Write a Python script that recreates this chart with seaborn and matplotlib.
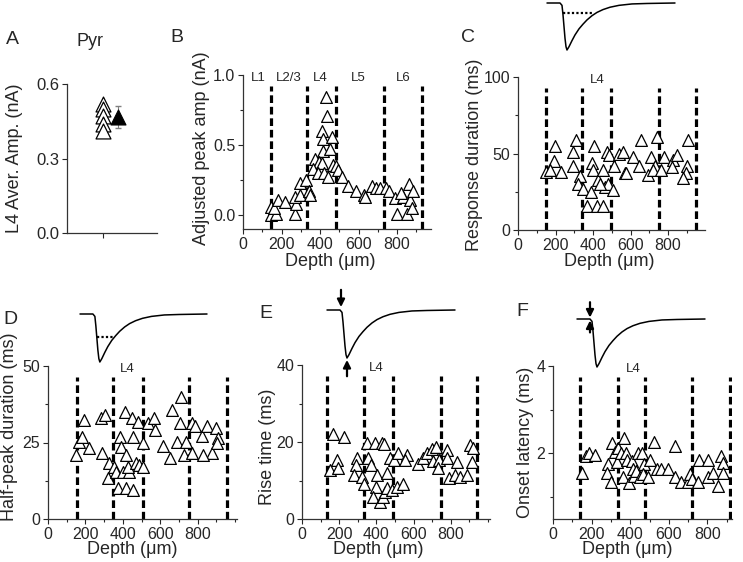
import numpy as np
import matplotlib
matplotlib.use("Agg")
import matplotlib.pyplot as plt
from matplotlib.ticker import MultipleLocator, FixedLocator, FormatStrFormatter
import seaborn as sns

sns.set_style("ticks")
plt.rcParams["font.family"] = ["Liberation Sans", "DejaVu Sans"]

W, H = 743, 562

# ---- data ----
# A: L4 average amplitude (nA)
a_amp = [0.52, 0.50, 0.47, 0.44, 0.41]

# B: adjusted peak amplitude (nA) vs depth (um)
b_depth = [144, 144, 170, 160, 184, 219, 270, 275, 270, 296, 297, 327, 341, 350,
           431, 435, 410, 417, 463, 414, 452, 376, 395, 365, 410, 388, 419, 443,
           466, 484, 492, 515, 544, 588, 626, 635, 671, 692, 713, 744, 756, 791,
           797, 831, 849, 862, 866, 883, 820, 875]
b_amp = [0.06, 0.00, 0.01, 0.05, 0.11, 0.09, 0.01, 0.08, 0.13, 0.14, 0.23, 0.25, 0.17, 0.14,
         0.84, 0.71, 0.60, 0.54, 0.555, 0.46, 0.47, 0.40, 0.38, 0.33, 0.37, 0.30, 0.30, 0.27,
         0.36, 0.35, 0.32, 0.27, 0.21, 0.17, 0.14, 0.13, 0.21, 0.19, 0.19, 0.195, 0.17, 0.12,
         0.01, 0.13, 0.01, 0.22, 0.11, 0.17, 0.16, 0.05]

# C: response duration (ms)
c_depth = [149, 197, 192, 171, 228, 309, 292, 295, 331, 322, 348, 370, 405, 393, 398, 388,
           420, 452, 428, 452, 473, 464, 482, 505, 487, 514, 540, 562, 571, 615, 576, 654,
           647, 695, 707, 740, 731, 722, 761, 780, 828, 819, 850, 908, 903, 896, 878, 436]
c_dur = [38, 55, 45, 39, 38, 59, 51, 42, 35, 30, 27, 16, 55, 44, 39, 25,
         16, 16, 33, 39, 51, 28, 30, 26, 49, 42, 50, 51, 37, 48, 37, 59,
         42, 36, 48, 61, 42, 39, 39, 48, 46, 41, 49, 59, 42, 37, 34, 30]

# D: half-peak duration (ms)
d_depth = [152, 167, 184, 194, 220, 283, 306, 289, 328, 319, 355, 364, 373, 409, 385, 391,
           418, 403, 435, 426, 418, 453, 450, 480, 471, 486, 453, 507, 507, 534, 565, 570,
           615, 651, 660, 704, 713, 690, 727, 740, 767, 772, 785, 821, 848, 875, 830, 898,
           910, 905]
d_dur = [20.9, 25.3, 26.9, 32.4, 23.1, 32.9, 34.0, 21.5, 18.4, 13.3, 17.1, 15.5, 10.0, 35.0, 26.9, 23.6,
         20.9, 15.5, 15.5, 17.1, 10.0, 26.9, 32.9, 31.8, 18.2, 17.6, 9.5, 24.7, 17.1, 31.3, 32.9, 29.1,
         23.9, 19.8, 35.6, 31.3, 39.8, 25.3, 20.9, 25.3, 21.5, 31.3, 30.4, 27.2, 30.5, 21.5, 20.9, 29.6,
         26.4, 25.0]

# E: rise time (ms)
e_depth = [150, 165, 190, 195, 228, 294, 290, 280, 321, 335, 348, 357, 369, 392, 401, 398,
           380, 419, 434, 428, 441, 455, 446, 459, 473, 495, 482, 509, 518, 545, 566, 554,
           625, 652, 670, 697, 720, 703, 738, 733, 778, 778, 792, 832, 823, 849, 885, 903,
           918, 912]
e_rise = [12.7, 22.1, 15.3, 13.2, 21.4, 15.8, 14.0, 11.4, 11.0, 9.2, 19.7, 15.8, 14.0, 19.7, 11.4, 8.4,
          5.8, 4.5, 5.8, 19.8, 19.5, 11.9, 7.1, 8.0, 15.8, 15.3, 7.5, 8.4, 17.2, 9.2, 16.6, 15.3,
          14.3, 15.8, 17.1, 18.1, 18.8, 15.1, 15.3, 13.2, 17.9, 15.8, 10.6, 14.9, 11.4, 11.0, 11.4, 19.2,
          18.4, 14.9]

# F: onset latency (ms)
f_depth = [149, 170, 188, 219, 283, 278, 300, 308, 323, 335, 330, 353, 370, 361, 379, 382,
           396, 410, 413, 422, 431, 439, 448, 462, 469, 465, 491, 504, 521, 538, 561, 596,
           630, 634, 665, 700, 708, 720, 752, 757, 804, 804, 830, 856, 868, 882, 879]
f_lat = [1.56, 1.95, 2.02, 1.96, 1.75, 1.55, 1.35, 2.23, 2.03, 2.13, 1.80, 2.02, 2.36, 1.45, 2.02, 1.85,
         1.33, 1.83, 1.64, 1.48, 1.60, 2.02, 1.45, 2.02, 1.75, 1.52, 1.45, 1.86, 2.26, 1.64, 1.64, 1.64,
         2.17, 1.45, 1.35, 1.35, 1.52, 1.41, 1.35, 1.85, 1.85, 1.45, 1.56, 1.26, 1.95, 1.77, 1.56]

# cortical layer borders (um) as drawn in each panel
b_borders = [146, 330, 485, 732, 929]
c_borders = [149, 341, 496, 752, 949]
d_borders = [156, 349, 505, 753, 957]
e_borders = [134, 333, 489, 747, 941]
f_borders = [140, 335, 479, 722, 917]
layer_names = ["L1", "L2/3", "L4", "L5", "L6"]
layer_pos = [78, 240, 402, 600, 830]

# example response trace (normalised), time in arbitrary units
trace_t = [0, 13, 15, 16, 17, 18, 19, 20, 22, 25, 28, 32, 36, 40, 45, 50, 56, 63, 72, 85, 100, 128]
trace_v = [0, 0, -0.05, -0.25, -0.5, -0.75, -0.93, -1.0, -0.93, -0.8, -0.68, -0.55, -0.45,
           -0.36, -0.27, -0.2, -0.14, -0.09, -0.05, -0.02, -0.01, 0]


def box(left, top, right, bottom):
    return [left / W, 1 - bottom / H, (right - left) / W, (bottom - top) / H]


def style(ax, ylim, ymajor, yminor, xmax):
    sns.despine(ax=ax)
    ax.set_ylim(*ylim)
    ax.yaxis.set_major_locator(MultipleLocator(ymajor))
    ax.yaxis.set_minor_locator(MultipleLocator(yminor))
    ax.set_xlim(0, xmax)
    ax.set_xticks([0, 200, 400, 600, 800])
    ax.xaxis.set_minor_locator(MultipleLocator(100))
    ax.tick_params(which="major", direction="out", length=3.5, width=0.8, labelsize=11.5, pad=2)
    ax.tick_params(which="minor", direction="out", length=2, width=0.8)
    for s in ["left", "bottom"]:
        ax.spines[s].set_linewidth(0.9)
        ax.spines[s].set_color("#333333")
    ax.set_xlabel("")
    ax.set_ylabel("")


def depth_panel(rect, x, y, borders, ylim, ymajor, yminor, xmax, labels, label_x):
    ax = fig.add_axes(box(*rect))
    for b in borders:
        ax.axvline(b, ymin=0, ymax=0.93, color="black", lw=2.3, ls=(0, (2.4, 1.2)), zorder=1)
    sns.scatterplot(x=x, y=y, ax=ax, marker="^", s=72, color="white",
                    edgecolor="black", linewidth=0.9, zorder=3, clip_on=False)
    style(ax, ylim, ymajor, yminor, xmax)
    tr = ax.get_xaxis_transform()
    for name, lx in zip(labels, label_x):
        ax.text(lx, 0.98, name, transform=tr, ha="center", va="center", fontsize=9.5)
    return ax


def trace_inset(rect):
    ax = fig.add_axes(box(*rect))
    sns.lineplot(x=trace_t, y=trace_v, ax=ax, color="black", lw=1.1, sort=False)
    ax.set_xlim(0, 128)
    ax.set_ylim(-1, 0)
    ax.axis("off")
    for ln in ax.lines:
        ln.set_clip_on(False)
    return ax


def arrow(ax, t, v0, v1):
    ax.annotate("", xy=(t, v1), xytext=(t, v0), annotation_clip=False,
                arrowprops=dict(arrowstyle="-|>", color="black", lw=1.6, mutation_scale=11,
                                shrinkA=0, shrinkB=0))


fig = plt.figure(figsize=(W / 100, H / 100), dpi=100)

# ---- A ----
axA = fig.add_axes(box(67, 84, 157, 233))
sns.scatterplot(x=[0] * len(a_amp), y=a_amp, ax=axA, marker="^", s=115, color="white",
                edgecolor="black", linewidth=0.9, zorder=3, clip_on=False)
a_mean = np.mean(a_amp)
a_sd = np.std(a_amp, ddof=1)
axA.errorbar([0.42], [a_mean], yerr=[a_sd], color="gray", lw=0.8, capsize=2.5, zorder=2)
sns.scatterplot(x=[0.42], y=[a_mean], ax=axA, marker="^", s=115, color="black",
                edgecolor="black", zorder=4)
sns.despine(ax=axA)
axA.set_xlim(-1, 1.5)
axA.set_ylim(0, 0.6)
axA.set_yticks([0.0, 0.3, 0.6])
axA.set_xticks([0])
axA.set_xticklabels([""])
axA.tick_params(direction="out", length=3.5, width=0.8, labelsize=12, pad=2)
for s in ["left", "bottom"]:
    axA.spines[s].set_linewidth(0.9)
    axA.spines[s].set_color("#333333")
axA.set_xlabel("")
axA.set_ylabel("")
fig.text(90 / W, 1 - 41 / H, "Pyr", ha="center", va="center", fontsize=13)

# ---- B ----
axB = depth_panel((243, 75, 431, 229), b_depth, b_amp, b_borders, (-0.1, 1.0), 0.5, 0.25, 976,
                  layer_names, layer_pos)
axB.yaxis.set_major_formatter(FormatStrFormatter("%.1f"))

# ---- C ----
axC = depth_panel((518, 77, 705, 230), c_depth, c_dur, c_borders, (0, 100), 50, 25, 997,
                  ["L4"], [421])
inC = trace_inset((547, 3, 675, 50))
inC.plot([16, 46], [-0.21, -0.21], color="black", ls=(0, (1, 1)), lw=1.6, clip_on=False)

# ---- D ----
axD = depth_panel((48, 366, 237, 519), d_depth, d_dur, d_borders, (0, 50), 25, 12.5, 1010,
                  ["L4"], [425])
inD = trace_inset((80, 314, 207, 362))
inD.plot([17, 33], [-0.48, -0.48], color="black", ls=(0, (1, 1)), lw=1.6, clip_on=False)

# ---- E ----
axE = depth_panel((302, 365, 490, 519), e_depth, e_rise, e_borders, (0, 40), 20, 10, 1011,
                  ["L4"], [400])
inE = trace_inset((327, 310, 455, 358))
arrow(inE, 14, 0.42, 0.06)
arrow(inE, 20, -1.38, -1.04)

# ---- F ----
axF = depth_panel((553, 366, 732, 519), f_depth, f_lat, f_borders, (0.5, 4), 2, 1, 927,
                  ["L4"], [416])
axF.set_yticks([2, 4])
axF.yaxis.set_minor_locator(FixedLocator([1, 3]))
inF = trace_inset((577, 319, 705, 367))
arrow(inF, 13, 0.35, 0.03)
arrow(inF, 13, -0.28, -0.03)

# ---- axis labels as figure text ----
ylabels = [("L4 Aver. Amp. (nA)", 15, 158), ("Adjusted peak amp (nA)", 201, 148),
           ("Response duration (ms)", 475, 155), ("Half-peak duration (ms)", 10, 427),
           ("Rise time (ms)", 267, 447), ("Onset latency (ms)", 525, 442)]
for txt, x, y in ylabels:
    fig.text(x / W, 1 - y / H, txt, rotation=90, ha="center", va="center", fontsize=13)

xlabels = [(330, 262), (609, 262), (132, 550), (378, 550), (627, 549)]
for x, y in xlabels:
    fig.text(x / W, 1 - y / H, "Depth (\u03bcm)", ha="center", va="center", fontsize=13)

letters = [("A", 12, 40), ("B", 177, 37), ("C", 468, 37), ("D", 10, 319), ("E", 266, 313), ("F", 522, 311)]
for txt, x, y in letters:
    fig.text(x / W, 1 - y / H, txt, ha="center", va="center", fontsize=14)

fig.savefig("out.png", dpi=100)
